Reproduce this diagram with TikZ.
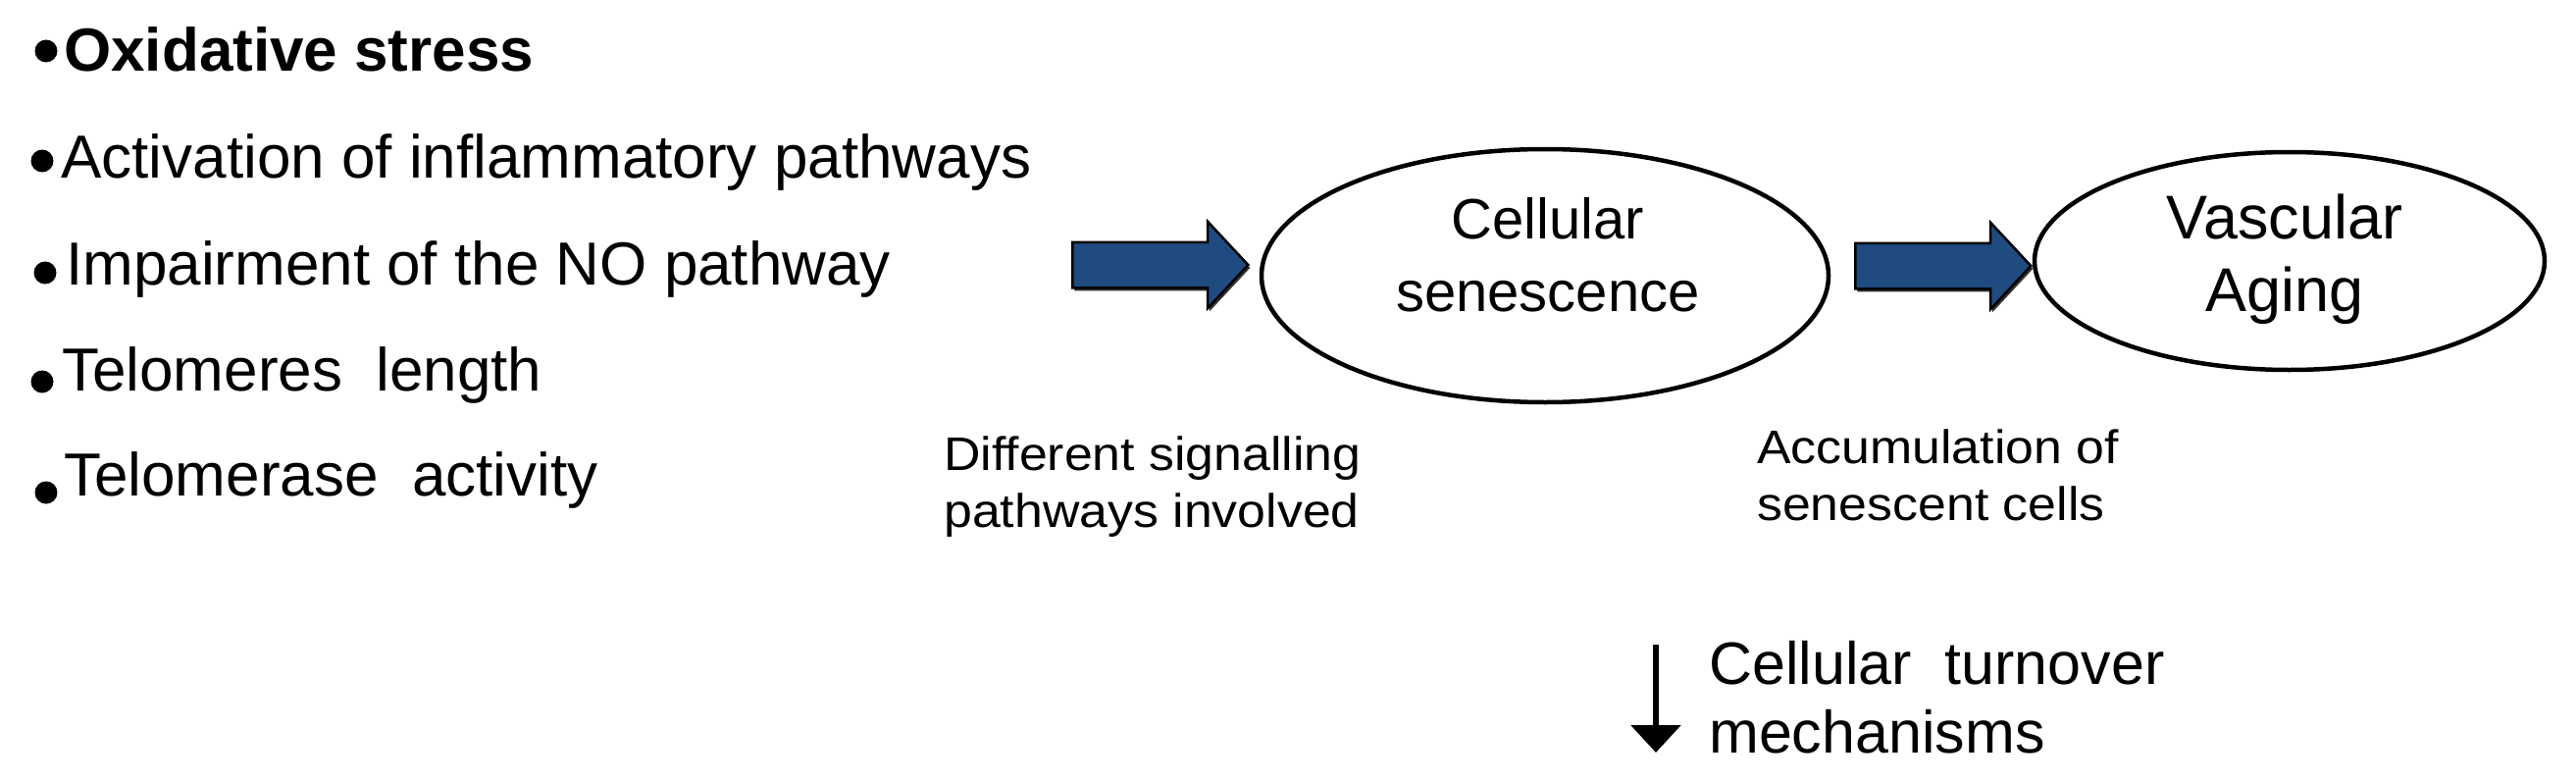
\documentclass[tikz,border=0pt]{standalone}
\usepackage{fontspec}
\setmainfont{Liberation Sans}
\newfontfamily\labelfont{Liberation Sans}[FakeStretch=1.08]
\usetikzlibrary{shapes.geometric,shapes.arrows,arrows.meta,shadows}
\definecolor{arrowblue}{HTML}{1F4B80}
\begin{document}
\begin{tikzpicture}[x=1pt,y=-1pt,
  listitem/.style={anchor=base west, inner sep=0pt, font=\fontsize{62}{74}\selectfont},
  bul/.style={fill=black, circle, inner sep=0pt, minimum size=23pt},
  oval/.style={ellipse, draw=black, line width=4.5pt, inner sep=0pt},
  ovaltext/.style={anchor=base, align=center, inner sep=0pt},
  blockarrow/.style={single arrow, draw=black, line width=2.5pt, fill=arrowblue,
    minimum height=179pt, inner xsep=0pt, inner ysep=22pt,
    single arrow head extend=21pt, single arrow tip angle=94,
    drop shadow={shadow xshift=2pt, shadow yshift=-3pt, fill=black, opacity=0.8}},
  note/.style={anchor=base west, align=left, inner sep=0pt,
    font=\labelfont\fontsize{48}{58}\selectfont},
  turn/.style={anchor=base west, align=left, inner sep=0pt,
    font=\fontsize{61}{70}\selectfont},
  downarrow/.style={line width=6pt, -{Triangle[length=28pt,width=50pt]}}
]
\useasboundingbox (0,0) rectangle (2626,797);

% list
\node[bul] (b1) at (47,52) {};
\node[listitem, font=\bfseries\fontsize{62}{74}\selectfont] (l1) at (65,73) {Oxidative stress};
\node[bul] (b2) at (43,164) {};
\node[listitem] (l2) at (62,182) {Activation of inflammatory pathways};
\node[bul] (b3) at (46,278) {};
\node[listitem] (l3) at (67,290) {Impairment of the NO pathway};
\node[bul] (b4) at (43,389) {};
\node[listitem] (l4) at (63,398) {Telomeres\ \ length};
\node[bul] (b5) at (47,502) {};
\node[listitem] (l5) at (65,505) {Telomerase\ \ activity};

% ovals
\node[oval, minimum width=578pt, minimum height=258pt] (cs) at (1575,281) {};
\node[ovaltext, font=\fontsize{58}{74}\selectfont] (cst) at (1578,317) {Cellular\\senescence};
\node[oval, minimum width=520pt, minimum height=222pt] (va) at (2334,266) {};
\node[ovaltext, font=\fontsize{63}{74}\selectfont] (vat) at (2329,317) {Vascular\\Aging};

% block arrows
\node[blockarrow] (a1) at (1172,270) {};
\node[blockarrow] (a2) at (1970,271) {};

% notes
\node[note] (n1) at (962,537) {Different signalling\\pathways involved};
\node[note] (n2) at (1791,530) {Accumulation of\\senescent cells};

% turnover
\coordinate (d1) at (1688,657);
\coordinate (d2) at (1688,767);
\draw[downarrow] (d1) -- (d2);
\node[turn] (tm) at (1742,767) {Cellular\ \ turnover\\mechanisms};
\end{tikzpicture}
\end{document}
